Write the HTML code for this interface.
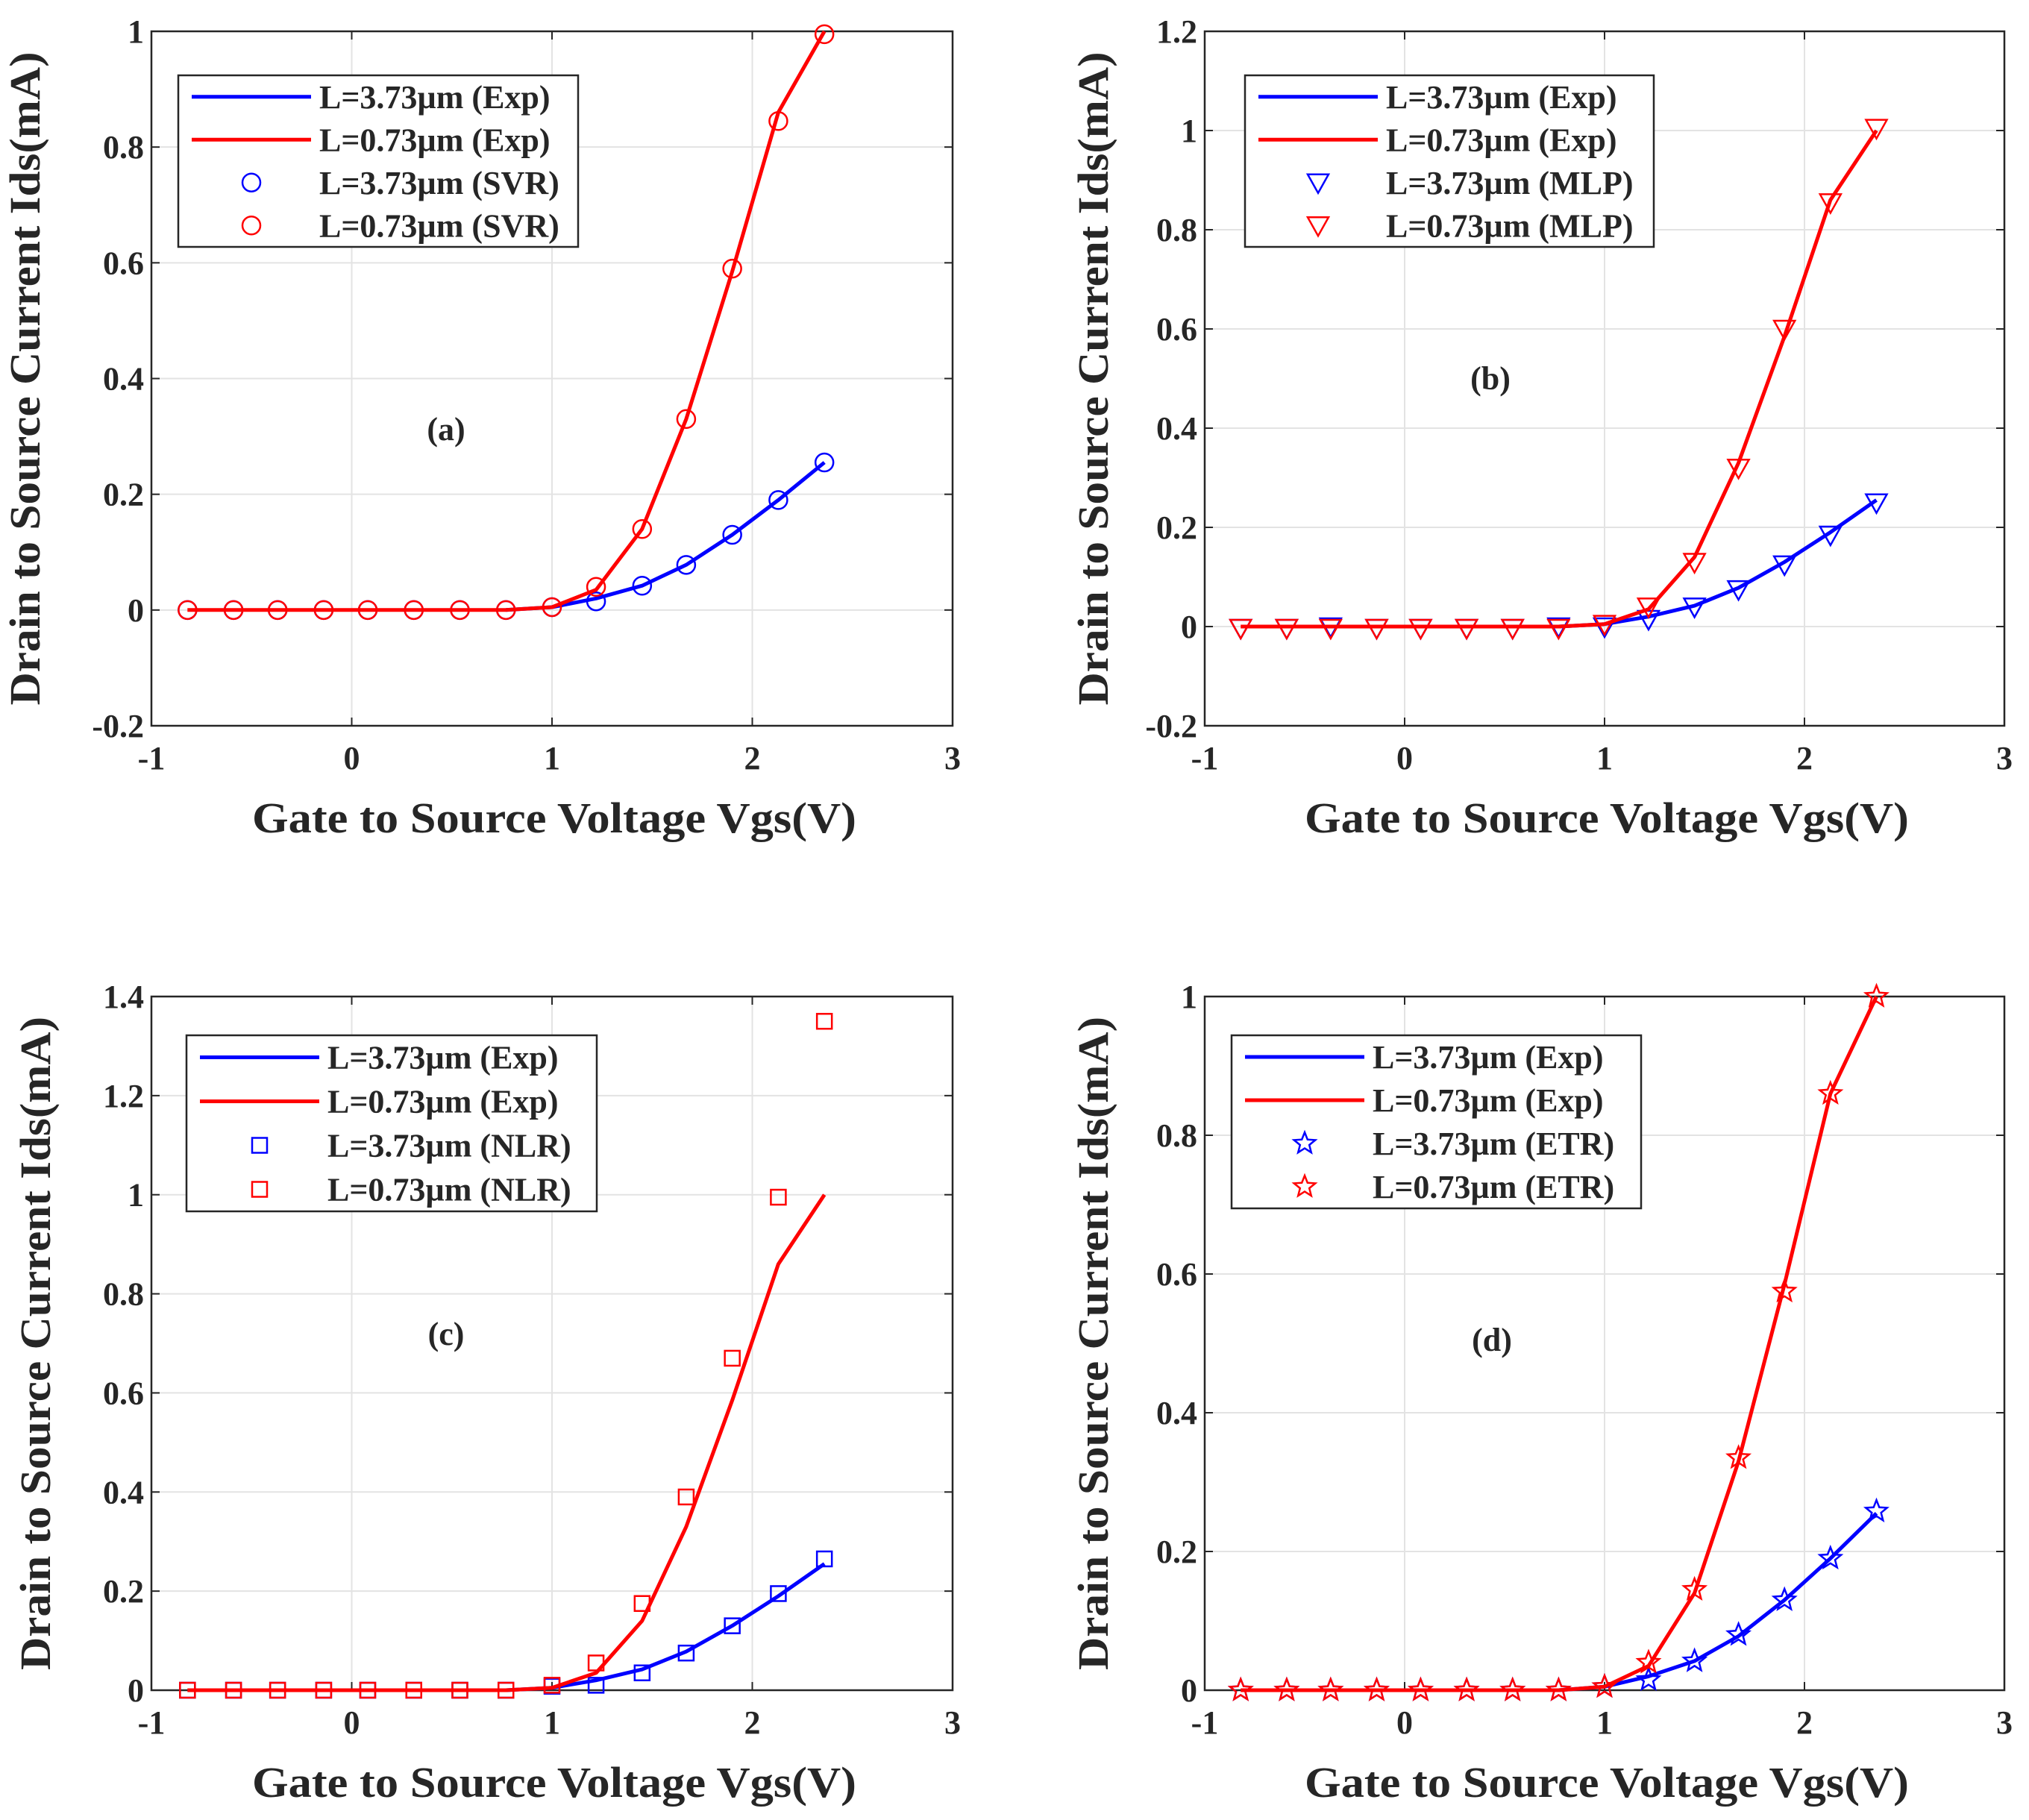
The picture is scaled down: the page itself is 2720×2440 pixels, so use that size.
<!DOCTYPE html>
<html><head><meta charset="utf-8">
<style>
html,body{margin:0;padding:0;background:#fff;}
svg{display:block;}
svg text{font-family:"Liberation Serif","DejaVu Serif",serif;font-weight:bold;fill:#262626;}
</style></head>
<body>
<svg id="fig" width="2720" height="2440" viewBox="0 0 2720 2440" xmlns="http://www.w3.org/2000/svg"></svg>
<script>
const vgs = [-0.82,-0.59,-0.37,-0.14,0.08,0.31,0.54,0.77,1.0,1.22,1.45,1.67,1.9,2.13,2.36];
const expBlue = [0,0,0,0,0,0,0,0,0.005,0.02,0.042,0.078,0.13,0.19,0.255];
const expRed  = [0,0,0,0,0,0,0,0,0.005,0.035,0.14,0.33,0.585,0.86,1.0];
const svrBlue = [0,0,0,0,0,0,0,0,0.005,0.015,0.042,0.078,0.13,0.19,0.255];
const svrRed  = [0,0,0,0,0,0,0,0,0.005,0.04,0.14,0.33,0.59,0.845,0.995];
const mlpBlue = [-0.003,-0.003,0,-0.003,-0.003,-0.003,-0.003,0,0.0,0.015,0.04,0.075,0.125,0.185,0.25];
const mlpRed  = [-0.003,-0.003,-0.003,-0.003,-0.003,-0.003,-0.003,-0.003,0.005,0.04,0.13,0.32,0.6,0.855,1.005];
const nlrBlue = [0,0,0,0,0,0,0,0,0.008,0.01,0.035,0.075,0.13,0.195,0.265];
const nlrRed  = [0,0,0,0,0,0,0,0,0.01,0.055,0.175,0.39,0.67,0.995,1.35];
const etrBlue = [0,0,0,0,0,0,0,0,0.005,0.015,0.042,0.08,0.13,0.19,0.258];
const etrRed  = [0,0,0,0,0,0,0,0,0.005,0.04,0.145,0.335,0.575,0.86,1.0];
const xTicks = [-1,0,1,2,3];
const yTicksA = [-0.2,0,0.2,0.4,0.6,0.8,1];
const yTicksB = [-0.2,0,0.2,0.4,0.6,0.8,1,1.2];
const yTicksC = [0,0.2,0.4,0.6,0.8,1,1.2,1.4];
const yTicksD = [0,0.2,0.4,0.6,0.8,1];
const panelLabels = ["(a)","(b)","(c)","(d)"];
const modelNames = ["SVR","MLP","NLR","ETR"];

const NS="http://www.w3.org/2000/svg";
const svg=document.getElementById('fig');
const FF='"Liberation Serif","DejaVu Serif",serif';
function mk(tag,attrs,parent){const e=document.createElementNS(NS,tag);for(const k in attrs)e.setAttribute(k,attrs[k]);if(tag==='text'){e.setAttribute('font-family',FF);e.setAttribute('font-weight','bold');}(parent||svg).appendChild(e);return e;}

const panels=[
 {L:203,R:1277,T:42,B:973,ymin:-0.2,ymax:1,yt:yTicksA,mb:svrBlue,mr:svrRed,mk:'circle',lab:[598,590],leg:[239,101,536,230]},
 {L:1615,R:2687,T:42,B:973,ymin:-0.2,ymax:1.2,yt:yTicksB,mb:mlpBlue,mr:mlpRed,mk:'tri',lab:[1998,522],leg:[1669,101,548,230]},
 {L:203,R:1277,T:1336,B:2266,ymin:0,ymax:1.4,yt:yTicksC,mb:nlrBlue,mr:nlrRed,mk:'square',lab:[598,1803],leg:[250,1388,550,236]},
 {L:1615,R:2687,T:1336,B:2266,ymin:0,ymax:1,yt:yTicksD,mb:etrBlue,mr:etrRed,mk:'star',lab:[2000,1811],leg:[1651,1388,549,232]}
];

function marker(g,type,cx,cy,color,name){
  let e;
  if(type==='circle') e=mk('circle',{cx:cx,cy:cy,r:12,fill:'none',stroke:color,'stroke-width':2.5},g);
  else if(type==='square') e=mk('rect',{x:cx-10,y:cy-10,width:20,height:20,fill:'none',stroke:color,'stroke-width':2.5},g);
  else if(type==='tri') e=mk('polygon',{points:`${cx-14},${cy-11} ${cx+14},${cy-11} ${cx},${cy+14}`,fill:'none',stroke:color,'stroke-width':2.5},g);
  else {
    let pts=[];for(let i=0;i<10;i++){const r=i%2?6.5:15;const a=-Math.PI/2+i*Math.PI/5;pts.push((cx+r*Math.cos(a)).toFixed(1)+','+(cy+r*Math.sin(a)).toFixed(1));}
    e=mk('polygon',{points:pts.join(' '),fill:'none',stroke:color,'stroke-width':2.5},g);
  }
  
  
  return e;
}

panels.forEach((p,pi)=>{
  const g=mk('g',{});
  
  
  const xs=v=>p.L+(v-(-1))/(3-(-1))*(p.R-p.L);
  const ys=v=>p.B-(v-p.ymin)/(p.ymax-p.ymin)*(p.B-p.T);
  xTicks.forEach(t=>{const x=xs(t);const l=mk('line',{x1:x,y1:p.T,x2:x,y2:p.B,stroke:'#e3e3e3','stroke-width':2},g);});
  p.yt.forEach(t=>{const y=ys(t);const l=mk('line',{x1:p.L,y1:y,x2:p.R,y2:y,stroke:'#e3e3e3','stroke-width':2},g);});
  xTicks.forEach(t=>{const x=xs(t);
    mk('line',{x1:x,y1:p.B,x2:x,y2:p.B-11,stroke:'#262626','stroke-width':2},g);
    mk('line',{x1:x,y1:p.T,x2:x,y2:p.T+11,stroke:'#262626','stroke-width':2},g);
    const tx=mk('text',{x:x,y:p.B+58,'text-anchor':'middle','font-size':44},g);tx.textContent=String(t);
    });
  p.yt.forEach(t=>{const y=ys(t);
    mk('line',{x1:p.L,y1:y,x2:p.L+11,y2:y,stroke:'#262626','stroke-width':2},g);
    mk('line',{x1:p.R,y1:y,x2:p.R-11,y2:y,stroke:'#262626','stroke-width':2},g);
    const tx=mk('text',{x:p.L-10,y:y+15,'text-anchor':'end','font-size':44},g);tx.textContent=String(t);
    });
  const box=mk('rect',{x:p.L,y:p.T,width:p.R-p.L,height:p.B-p.T,fill:'none',stroke:'#262626','stroke-width':2.5},g);
  
  const path=(arr,start)=>arr.map((v,i)=>i<start?null:(xs(vgs[i]).toFixed(1)+','+ys(v).toFixed(1))).filter(s=>s).join(' ');
  const lb=mk('polyline',{points:path(expBlue,7),fill:'none',stroke:'#0000ff','stroke-width':5,'stroke-linejoin':'round'},g);
  
  p.mb.forEach((v,i)=>marker(g,p.mk,xs(vgs[i]),ys(v),'#0000ff','marker-blue'));
  const lr=mk('polyline',{points:path(expRed,0),fill:'none',stroke:'#ff0000','stroke-width':5,'stroke-linejoin':'round'},g);
  
  p.mr.forEach((v,i)=>marker(g,p.mk,xs(vgs[i]),ys(v),'#ff0000','marker-red'));
  const pl=mk('text',{x:p.lab[0],y:p.lab[1],'text-anchor':'middle','font-size':44,fill:'#000'},g);pl.textContent=panelLabels[pi];
  
  const xl=mk('text',{x:(p.L+p.R)/2+3,y:p.B+143,'text-anchor':'middle','font-size':58,textLength:810,lengthAdjust:'spacingAndGlyphs'},g);
  xl.textContent='Gate to Source Voltage Vgs(V)';
  
  const yx=p.L-(pi%2? 130:150)+ (pi===2?14:0), yc=(p.T+p.B)/2;
  const yl=mk('text',{x:0,y:0,'text-anchor':'middle','font-size':58,textLength:876,lengthAdjust:'spacingAndGlyphs',transform:`translate(${yx},${yc}) rotate(-90)`},g);
  yl.textContent='Drain to Source Current Ids(mA)';
  
  const [lx,ly,lw,lh]=p.leg;
  const lg=mk('g',{},g);
  
  mk('rect',{x:lx,y:ly,width:lw,height:lh,fill:'#fff',stroke:'#262626','stroke-width':2.5},lg);
  const labels=['L=3.73µm (Exp)','L=0.73µm (Exp)','L=3.73µm ('+modelNames[pi]+')','L=0.73µm ('+modelNames[pi]+')'];
  const colors=['#0000ff','#ff0000','#0000ff','#ff0000'];
  const rowH=lh/4;
  labels.forEach((s,k)=>{
    const ry=ly+rowH*(k+0.5);
    if(k<2){const ln=mk('line',{x1:lx+18,y1:ry,x2:lx+178,y2:ry,stroke:colors[k],'stroke-width':5},lg);}
    else marker(lg,p.mk,lx+98,ry,colors[k],'legend-marker');
    const t=mk('text',{x:lx+189,y:ry+15,'font-size':44},lg);t.textContent=s;
    
  });
});
</script>
</body></html>
